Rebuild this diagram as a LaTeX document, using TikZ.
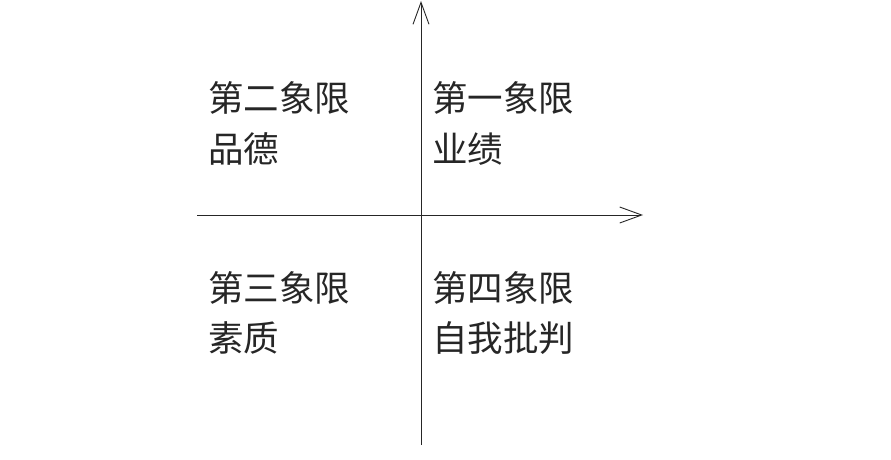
\documentclass[tikz,border=0pt]{standalone}
\usepackage{fontspec}
\newfontfamily\cjk{Noto Sans CJK SC}
\usetikzlibrary{arrows.meta}
\begin{document}
\begin{tikzpicture}[x=1pt,y=-1pt,
  axis/.style={line width=0.9pt,draw=black!85,-{Straight Barb[length=22pt,width=16pt,line width=0.9pt]}},
  qtext/.style={anchor=west,inner sep=0pt,font=\cjk\fontsize{35.5}{40}\selectfont,text=black!85}]
\useasboundingbox (0,0) rectangle (891,460);
\coordinate (ybot) at (421,445);
\coordinate (ytop) at (421,1);
\coordinate (xleft) at (197,215);
\coordinate (xright) at (643,215);
\draw[axis] (ybot) -- (ytop);
\draw[axis] (xleft) -- (xright);
\node[qtext] (q2a) at (208,98) {第二象限};
\node[qtext] (q2b) at (208,149) {品德};
\node[qtext] (q1a) at (432,98) {第一象限};
\node[qtext] (q1b) at (432,149) {业绩};
\node[qtext] (q3a) at (208,288) {第三象限};
\node[qtext] (q3b) at (208,338) {素质};
\node[qtext] (q4a) at (432,288) {第四象限};
\node[qtext] (q4b) at (432,338) {自我批判};
\end{tikzpicture}
\end{document}
